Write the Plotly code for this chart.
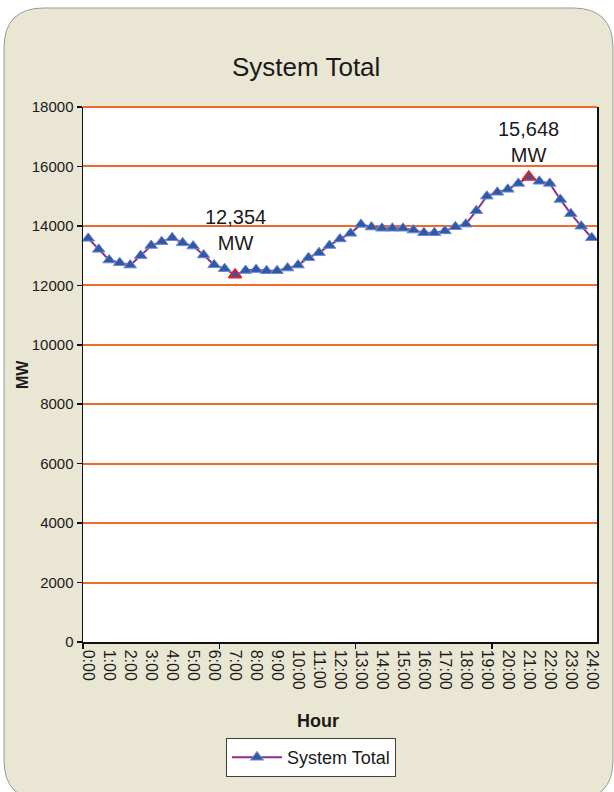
import plotly.graph_objects as go

# ---- data ----
hours = [i * 0.5 for i in range(49)]
system_total = [
    13580, 13210, 12850, 12760, 12680, 13000, 13340, 13470, 13600, 13430,
    13320, 13020, 12690, 12560, 12354, 12500, 12530, 12490, 12490, 12580,
    12680, 12930, 13100, 13340, 13560, 13750, 14050, 13960, 13920, 13920,
    13920, 13860, 13770, 13770, 13830, 13970, 14060, 14510, 15000, 15130,
    15230, 15430, 15648, 15500, 15430, 14890, 14410, 13990, 13600,
]
tick_hours = list(range(25))
tick_labels = [f"{h}:00" for h in tick_hours]
y_ticks = list(range(0, 18001, 2000))
y_tick_labels = [str(v) for v in y_ticks]

W, H = 614, 792
ML, MR, MT, MB = 83, 17, 107, 150
PW, PH = W - ML - MR, H - MT - MB

def px(x):
    return (x - ML) / PW

def py(y):
    return (H - MB - y) / PH

FONT = "Liberation Sans, Arial, sans-serif"
BEIGE = "#EAE6D4"
ORANGE = "#F06A2C"
PURPLE = "#8E2F8E"
BLUE = "#2F58A8"

i_min = system_total.index(min(system_total))
i_max = system_total.index(max(system_total))
line_cols = ["#6C8BC9"] * len(system_total)
line_w = [1] * len(system_total)
for i in (i_min, i_max):
    line_cols[i] = "#E0202A"
    line_w[i] = 2

fig = go.Figure()
fig.add_trace(go.Scatter(
    x=hours, y=system_total, mode="lines+markers", name="System Total",
    line=dict(color=PURPLE, width=2),
    marker=dict(symbol="triangle-up", size=11, color=BLUE,
                line=dict(color=line_cols, width=line_w)),
    cliponaxis=False,
))

# rounded background card
L, R, T, B, r = 4, 613, 8, 800, 40
path = (
    f"M {px(L+r)},{py(T)} L {px(R-r)},{py(T)} Q {px(R)},{py(T)} {px(R)},{py(T+r)} "
    f"L {px(R)},{py(B-r)} Q {px(R)},{py(B)} {px(R-r)},{py(B)} "
    f"L {px(L+r)},{py(B)} Q {px(L)},{py(B)} {px(L)},{py(B-r)} "
    f"L {px(L)},{py(T+r)} Q {px(L)},{py(T)} {px(L+r)},{py(T)} Z"
)
shapes = [
    dict(type="path", xref="paper", yref="paper", path=path, fillcolor=BEIGE,
         line=dict(color="#9A9A9A", width=1), layer="below"),
    dict(type="rect", xref="paper", yref="paper", x0=0, x1=1, y0=0, y1=1,
         fillcolor="white", line=dict(width=0), layer="below"),
    dict(type="line", xref="paper", yref="paper", x0=0, x1=1, y0=1, y1=1,
         line=dict(color=ORANGE, width=2), layer="below"),
]

annotations = [
    dict(text="System Total", xref="paper", yref="paper", x=px(306), y=py(67),
         showarrow=False, font=dict(family=FONT, size=26, color="#1a1a1a"),
         xanchor="center", yanchor="middle"),
    dict(text="Hour", xref="paper", yref="paper", x=px(318), y=py(721),
         showarrow=False, font=dict(family=FONT, size=18, color="#1a1a1a", weight="bold"),
         xanchor="center", yanchor="middle"),
    dict(text="MW", xref="paper", yref="paper", x=px(22), y=py(375), textangle=-90,
         showarrow=False, font=dict(family=FONT, size=16, color="#1a1a1a", weight="bold"),
         xanchor="center", yanchor="middle"),
    dict(text=f"{system_total[i_min]:,}<br>MW", x=hours[i_min], y=system_total[i_min],
         xref="x", yref="y", showarrow=False, yshift=45,
         font=dict(family=FONT, size=20, color="#1a1a1a"), xanchor="center", yanchor="middle"),
    dict(text=f"{system_total[i_max]:,}<br>MW", x=hours[i_max], y=system_total[i_max],
         xref="x", yref="y", showarrow=False, yshift=35,
         font=dict(family=FONT, size=20, color="#1a1a1a"), xanchor="center", yanchor="middle"),
]

fig.update_layout(
    width=W, height=H,
    margin=dict(l=ML, r=MR, t=MT, b=MB, pad=0),
    paper_bgcolor="white", plot_bgcolor="white",
    shapes=shapes, annotations=annotations,
    showlegend=True,
    legend=dict(orientation="h", x=px(311), y=py(738), xanchor="center", yanchor="top",
                bgcolor="white", bordercolor="#404040", borderwidth=1,
                font=dict(family=FONT, size=18, color="#1a1a1a"), itemwidth=50),
    font=dict(family=FONT, color="#1a1a1a"),
)
fig.update_xaxes(
    range=[-0.25, 24.25], tickmode="array", tickvals=tick_hours, ticktext=tick_labels,
    tickangle=90, ticks="", showgrid=False, zeroline=False,
    showline=True, linecolor="#111", linewidth=1.5, ticklabelstandoff=3,
    tickfont=dict(family=FONT, size=16, color="#1a1a1a"),
    minor=dict(tickmode="array", tickvals=[-0.25, 6.25, 12.75, 19.25],
               ticks="outside", ticklen=5, tickwidth=1.5, tickcolor="#111", showgrid=False),
)
fig.update_yaxes(
    range=[0, 18000], tickmode="array", tickvals=y_ticks, ticktext=y_tick_labels,
    ticks="outside", ticklen=5, tickwidth=1.5, tickcolor="#111",
    showgrid=True, gridcolor=ORANGE, gridwidth=2, zeroline=False,
    showline=True, linecolor="#111", linewidth=1.5, mirror=True,
    tickfont=dict(family=FONT, size=15, color="#1a1a1a"),
)

fig.write_html("out.html", config={"displayModeBar": False, "staticPlot": True},
               post_script="document.body.style.margin='0';")
